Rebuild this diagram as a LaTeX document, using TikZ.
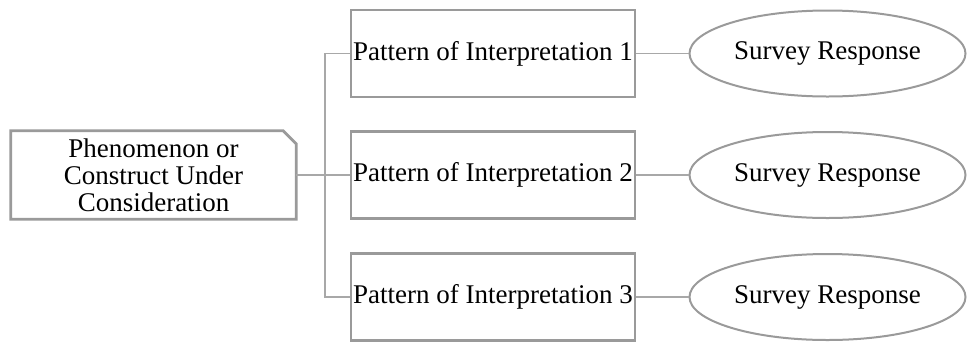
\documentclass[tikz,border=0pt]{standalone}
\usepackage{fontspec}
\setmainfont{Liberation Serif}
\usetikzlibrary{shapes.geometric}
\definecolor{boxgray}{HTML}{9A9A9A}
\definecolor{linegray}{HTML}{A8A8A8}
\begin{document}
\begin{tikzpicture}[x=1pt,y=-1pt,
  lbl/.style={font=\fontsize{27}{27}\selectfont, text=black, inner sep=0pt, align=center},
  patbox/.style={lbl, draw=boxgray, line width=2.8pt, rectangle, minimum width=284pt, minimum height=87pt},
  srvell/.style={lbl, draw=boxgray, line width=2pt, ellipse, minimum width=276pt, minimum height=86pt},
  srcbox/.style={lbl, rectangle, minimum width=285pt, minimum height=88pt},
  conn/.style={draw=linegray, line width=1.6pt}]
\useasboundingbox (0,0) rectangle (967,341);
\node[srcbox] (phen) at (153.5,175) {Phenomenon or\\Construct Under\\Consideration};
\draw[draw=boxgray, line width=2.8pt, line join=miter]
  (phen.north west) -- ([xshift=-13pt]phen.north east) -- ([yshift=-13pt]phen.north east)
  -- (phen.south east) -- (phen.south west) -- cycle;
\node[patbox] (p1) at (493,53.5) {Pattern of Interpretation 1};
\node[patbox] (p2) at (493,175) {Pattern of Interpretation 2};
\node[patbox] (p3) at (493,297) {Pattern of Interpretation 3};
\node[srvell] (s1) at (827.5,53.5) {Survey Response};
\node[srvell] (s2) at (827.5,175) {Survey Response};
\node[srvell] (s3) at (827.5,297) {Survey Response};
\coordinate (trunk) at (325,175);
\draw[conn] (phen.east) -- (p2.west);
\draw[conn] (p1.west) -| (trunk) |- (p3.west);
\draw[conn] (p1.east) -- (s1.west);
\draw[conn] (p2.east) -- (s2.west);
\draw[conn] (p3.east) -- (s3.west);
\end{tikzpicture}
\end{document}
